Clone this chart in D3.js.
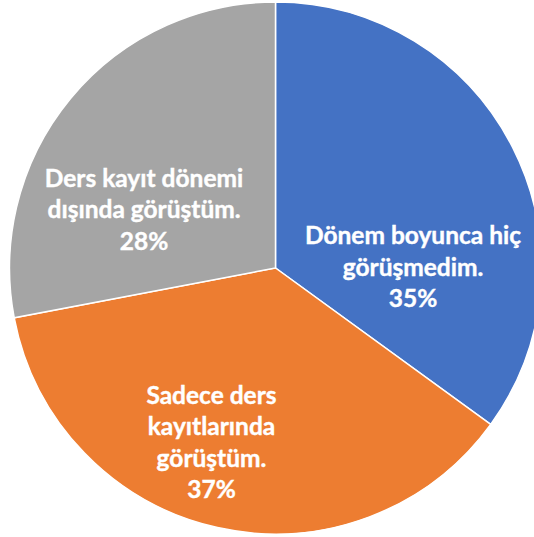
<!DOCTYPE html>
<html>
<head>
<meta charset="utf-8">
<script src="https://cdn.jsdelivr.net/npm/d3@7"></script>
<style>
  html, body { margin: 0; padding: 0; background: #ffffff; }
  svg { display: block; }
</style>
</head>
<body>
<div id="chart"></div>
<script>
// slice data (clockwise from 12 o'clock)
const categories = ["Dönem boyunca hiç görüşmedim.", "Sadece ders kayıtlarında görüştüm.", "Ders kayıt dönemi dışında görüştüm."];
const values = [35, 37, 28];
const labelLines = [
  ["Dönem boyunca hiç", "görüşmedim.", "35%"],
  ["Sadece ders", "kayıtlarında", "görüştüm.", "37%"],
  ["Ders kayıt dönemi", "dışında görüştüm.", "28%"]
];
const colors = ["#4472C4", "#ED7D31", "#A5A5A5"];
// shift of each label block away from the slice centroid
const labelNudge = [[19, 68], [-35, 53], [-29, 35]];

const width = 534, height = 537;
const cx = 275.5, cy = 268, radius = 266;
const lineH = 31.5;

const svg = d3.select("#chart")
  .append("svg")
  .attr("width", width)
  .attr("height", height);

const g = svg.append("g")
  .attr("transform", "translate(" + cx + "," + cy + ")");

const data = categories.map((c, i) => ({ name: c, value: values[i], lines: labelLines[i], color: colors[i], nudge: labelNudge[i] }));

const pie = d3.pie()
  .value(d => d.value)
  .sort(null);

const arc = d3.arc()
  .innerRadius(0)
  .outerRadius(radius);

const arcs = pie(data);

g.selectAll("path.slice")
  .data(arcs)
  .enter()
  .append("path")
  .attr("class", "slice")
  .attr("d", arc)
  .style("fill", d => d.data.color)
  .style("stroke", "#ffffff")
  .style("stroke-width", 1.5);

const labels = g.selectAll("text.lbl")
  .data(arcs)
  .enter()
  .append("text")
  .attr("class", "lbl")
  .attr("text-anchor", "middle")
  .style("font-family", "Lato, 'Open Sans', sans-serif")
  .style("font-weight", "bold")
  .style("font-size", "24.5px")
  .style("fill", "#ffffff")
  .style("stroke", "#ffffff")
  .style("stroke-width", 0.4)
  .attr("transform", d => {
    const c = arc.centroid(d);
    return "translate(" + (c[0] + d.data.nudge[0]) + "," + (c[1] + d.data.nudge[1]) + ")";
  });

labels.each(function(d) {
  const n = d.data.lines.length;
  d3.select(this).selectAll("tspan")
    .data(d.data.lines)
    .enter()
    .append("tspan")
    .attr("x", 0)
    .attr("y", (t, i) => (i - (n - 1) / 2) * lineH)
    .text(t => t);
});
</script>
</body>
</html>
